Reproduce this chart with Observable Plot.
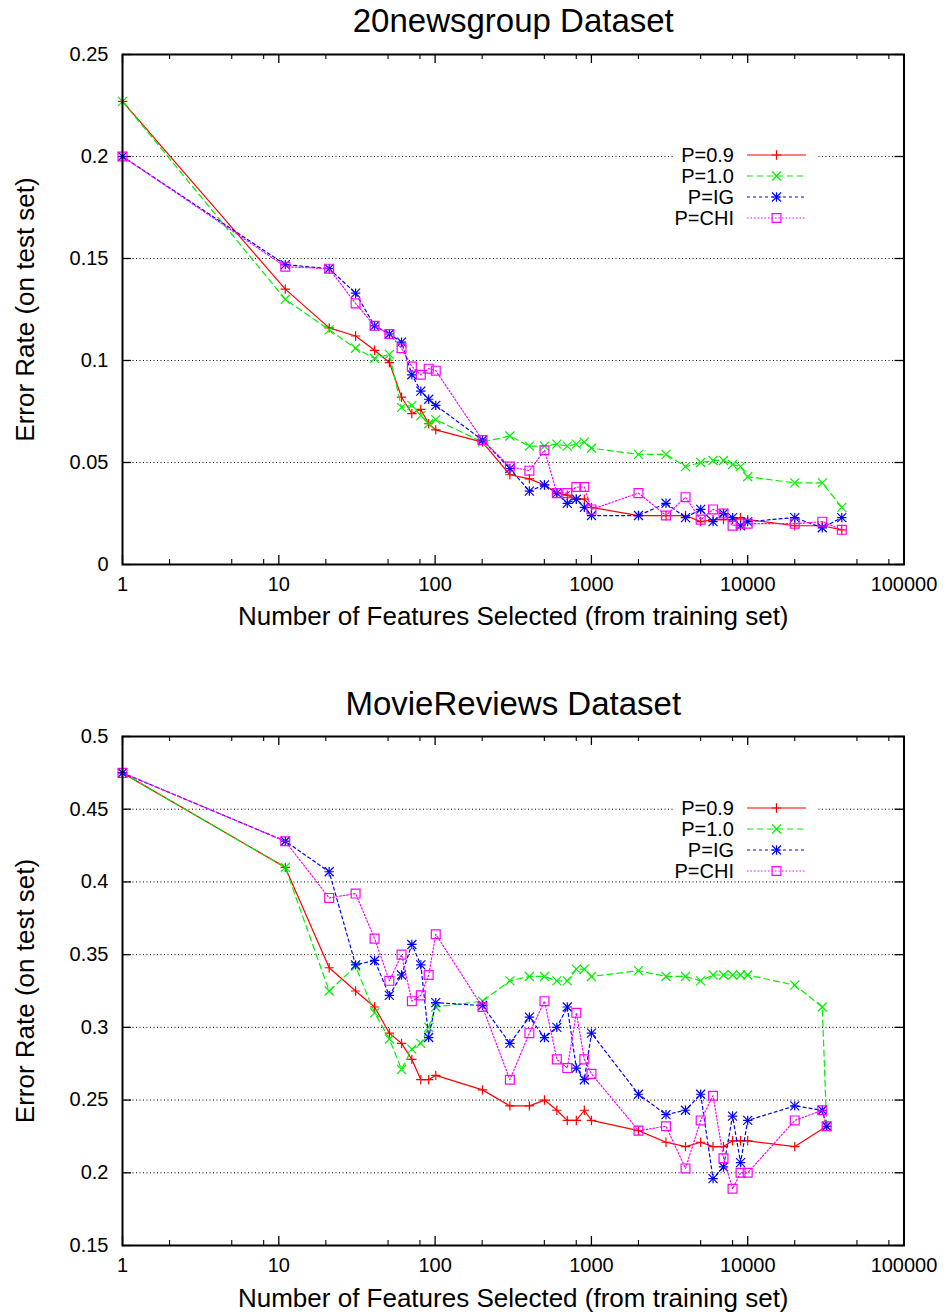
<!DOCTYPE html>
<html><head><meta charset="utf-8">
<script src="https://cdn.jsdelivr.net/npm/d3@7"></script>
<script src="https://cdn.jsdelivr.net/npm/@observablehq/plot@0.6"></script>
<style>
body{margin:0;background:#fff;}
#c svg{display:block;}
</style></head><body><div id="c"></div>
<script>
// ---------- data ----------
const seriesNames = ["P=0.9", "P=1.0", "P=IG", "P=CHI"];

const xTickValues = [1, 10, 100, 1000, 10000, 100000];
const xTickLabels = ["1", "10", "100", "1000", "10000", "100000"];
const xMinorTicks = [2, 5, 8, 20, 50, 80, 200, 500, 800, 2000, 5000, 8000, 20000, 50000, 80000];

const newsTitle = "20newsgroup Dataset";
const newsYTicks = [0, 0.05, 0.1, 0.15, 0.2, 0.25];
const newsYLabels = ["0", "0.05", "0.1", "0.15", "0.2", "0.25"];
const newsFeatures = [1, 11, 21, 31, 41, 51, 61, 71, 81, 91, 101, 201, 301, 401, 501, 601, 701, 801, 901, 1001,
  2001, 3001, 4001, 5001, 6001, 7001, 8001, 9001, 10001, 20001, 30001, 40001];
const newsP09 = [0.227, 0.135, 0.116, 0.112, 0.105, 0.099, 0.082, 0.074, 0.076, 0.069, 0.066, 0.060, 0.044, 0.042, 0.039, 0.035, 0.034, 0.032, 0.032, 0.028,
  0.024, 0.024, 0.024, 0.021, 0.022, 0.022, 0.022, 0.023, 0.022, 0.019, 0.019, 0.017];
const newsP10 = [0.227, 0.130, 0.115, 0.106, 0.101, 0.103, 0.077, 0.078, 0.073, 0.069, 0.071, 0.060, 0.063, 0.058, 0.058, 0.059, 0.058, 0.059, 0.060, 0.057,
  0.054, 0.054, 0.048, 0.050, 0.051, 0.051, 0.049, 0.048, 0.043, 0.040, 0.040, 0.028];
const newsIG = [0.200, 0.147, 0.145, 0.133, 0.117, 0.113, 0.109, 0.093, 0.085, 0.081, 0.078, 0.061, 0.047, 0.036, 0.039, 0.035, 0.030, 0.032, 0.028, 0.024,
  0.024, 0.030, 0.023, 0.027, 0.021, 0.025, 0.023, 0.019, 0.021, 0.023, 0.018, 0.023];
const newsCHI = [0.200, 0.146, 0.145, 0.128, 0.117, 0.113, 0.106, 0.097, 0.093, 0.096, 0.095, 0.061, 0.048, 0.046, 0.056, 0.035, 0.035, 0.038, 0.038, 0.027,
  0.035, 0.024, 0.033, 0.022, 0.027, 0.025, 0.019, 0.020, 0.020, 0.020, 0.021, 0.017];

const movieTitle = "MovieReviews Dataset";
const movieYTicks = [0.15, 0.2, 0.25, 0.3, 0.35, 0.4, 0.45, 0.5];
const movieYLabels = ["0.15", "0.2", "0.25", "0.3", "0.35", "0.4", "0.45", "0.5"];
const movieFeatures = [1, 11, 21, 31, 41, 51, 61, 71, 81, 91, 101, 201, 301, 401, 501, 601, 701, 801, 901, 1001,
  2001, 3001, 4001, 5001, 6001, 7001, 8001, 9001, 10001, 20001, 30001, 32000];
const movieP09 = [0.475, 0.410, 0.341, 0.325, 0.314, 0.296, 0.289, 0.278, 0.264, 0.264, 0.267, 0.257, 0.246, 0.246, 0.250, 0.243, 0.236, 0.236, 0.243, 0.236,
  0.229, 0.221, 0.218, 0.221, 0.218, 0.218, 0.222, 0.222, 0.222, 0.218, null, 0.232];
const movieP10 = [0.475, 0.410, 0.325, 0.342, 0.310, 0.292, 0.271, 0.285, 0.289, 0.300, 0.314, 0.318, 0.332, 0.335, 0.335, 0.332, 0.332, 0.340, 0.340, 0.335,
  0.339, 0.335, 0.335, 0.332, 0.336, 0.336, 0.336, 0.336, 0.336, 0.329, 0.314, 0.232];
const movieIG = [0.475, 0.428, 0.407, 0.343, 0.346, 0.322, 0.336, 0.357, 0.343, 0.293, 0.317, 0.315, 0.289, 0.307, 0.293, 0.300, 0.314, 0.272, 0.264, 0.296,
  0.254, 0.240, 0.243, 0.254, 0.196, 0.204, 0.239, 0.207, 0.236, 0.246, 0.243, 0.232];
const movieCHI = [0.475, 0.428, 0.389, 0.392, 0.361, 0.332, 0.350, 0.318, 0.322, 0.336, 0.364, 0.314, 0.264, 0.296, 0.318, 0.278, 0.272, 0.310, 0.278, 0.268,
  0.229, 0.232, 0.203, 0.236, 0.253, 0.210, 0.189, 0.200, 0.200, 0.236, 0.243, 0.232];

// ---------- styles ----------
const FONT = "'Liberation Sans', Arial, Helvetica, sans-serif";
const styles = [
  {color: "#ff0000", dash: null, symbols: [["plus", 3.13]]},
  {color: "#00f000", dash: "6,4", symbols: [["times", 4.17]]},
  {color: "#0000ff", dash: "3,3", symbols: [["plus", 3.13], ["times", 4.17]]},
  {color: "#ff00ff", dash: "1.5,2", symbols: [["square", 5.0]]}
];
const d3Sym = {plus: d3.symbolPlus, times: d3.symbolTimes, square: d3.symbolSquare};

function chart(cfg) {
  const W = 947, mL = 122, mR = 43.5;
  const plotW = W - mL - mR;
  const plotH = cfg.height - cfg.marginTop - cfg.marginBottom;
  const marks = [];
  // grid
  marks.push(Plot.ruleY(cfg.yTicks, {y: d => d, stroke: "#000", strokeWidth: 1, strokeDasharray: "1,2.5"}));
  // inward ticks
  marks.push(Plot.ruleX(xTickValues, {x: d => d, insetTop: plotH - 9, stroke: "#000", strokeWidth: 1.3}));
  marks.push(Plot.ruleX(xTickValues, {x: d => d, insetBottom: plotH - 9, stroke: "#000", strokeWidth: 1.3}));
  marks.push(Plot.ruleX(xMinorTicks, {x: d => d, insetTop: plotH - 5, stroke: "#000", strokeWidth: 1.1}));
  marks.push(Plot.ruleX(xMinorTicks, {x: d => d, insetBottom: plotH - 5, stroke: "#000", strokeWidth: 1.1}));
  marks.push(Plot.ruleY(cfg.yTicks, {y: d => d, insetRight: plotW - 9, stroke: "#000", strokeWidth: 1.3}));
  marks.push(Plot.ruleY(cfg.yTicks, {y: d => d, insetLeft: plotW - 9, stroke: "#000", strokeWidth: 1.3}));
  // series
  cfg.series.forEach((vals, s) => {
    const rows = [];
    vals.forEach((v, j) => { if (v != null) rows.push({n: cfg.features[j], e: v}); });
    const st = styles[s];
    marks.push(Plot.line(rows, {x: "n", y: "e", stroke: st.color, strokeWidth: 1.2,
      strokeDasharray: st.dash || undefined}));
    st.symbols.forEach(([sym, r]) => {
      marks.push(Plot.dot(rows, {x: "n", y: "e", symbol: sym, r, stroke: st.color, fill: "none", strokeWidth: 1.2}));
    });
  });
  marks.push(Plot.frame({stroke: "#000", strokeWidth: 2}));
  // tick labels
  marks.push(Plot.text(xTickValues, {x: d => d, text: (d, i) => xTickLabels[i], frameAnchor: "bottom",
    dy: 20, textAnchor: "middle", lineAnchor: "middle", fontSize: 20}));
  marks.push(Plot.text(cfg.yTicks, {y: d => d, text: (d, i) => cfg.yLabels[i], frameAnchor: "left",
    dx: -14, textAnchor: "end", lineAnchor: "middle", fontSize: 20}));
  // titles
  marks.push(Plot.text([cfg.title], {text: d => d, frameAnchor: "top", dy: cfg.titleDy,
    textAnchor: "middle", lineAnchor: "middle", fontSize: 33}));
  marks.push(Plot.text(["Number of Features Selected (from training set)"], {text: d => d, frameAnchor: "bottom",
    dy: cfg.xLabelDy, textAnchor: "middle", lineAnchor: "middle", fontSize: 26}));
  marks.push(Plot.text(["Error Rate (on test set)"], {text: d => d, frameAnchor: "left",
    dx: -97, rotate: -90, textAnchor: "middle", lineAnchor: "middle", fontSize: 26}));

  const svg = Plot.plot({
    width: W, height: cfg.height,
    marginLeft: mL, marginRight: mR, marginTop: cfg.marginTop, marginBottom: cfg.marginBottom,
    x: {type: "log", domain: [1, 100000], axis: null},
    y: {type: "linear", domain: cfg.yDomain, axis: null},
    style: {fontFamily: FONT, fontSize: "20px", color: "#000", background: "#fff", overflow: "visible"},
    marks
  });

  // key (legend), drawn in the plot's own coordinate frame
  const g = d3.select(svg).append("g").attr("class", "key");
  const rowH = 21, y0 = cfg.keyTop;
  g.append("rect").attr("x", 673).attr("y", y0 - 11).attr("width", 145).attr("height", rowH * 3 + 21)
    .attr("fill", "#fff");
  seriesNames.forEach((name, i) => {
    const y = y0 + i * rowH, st = styles[i];
    g.append("text").attr("x", 734).attr("y", y).attr("dy", "0.35em").attr("text-anchor", "end")
      .attr("font-family", FONT).attr("font-size", 20).attr("fill", "#000").text(name);
    g.append("line").attr("x1", 747).attr("x2", 806).attr("y1", y).attr("y2", y)
      .attr("stroke", st.color).attr("stroke-width", 1.2)
      .attr("stroke-dasharray", st.dash || null);
    st.symbols.forEach(([sym, r]) => {
      g.append("path").attr("transform", `translate(776.5,${y})`)
        .attr("d", d3.symbol(d3Sym[sym], Math.PI * r * r)())
        .attr("fill", "none").attr("stroke", st.color).attr("stroke-width", 1.2);
    });
  });
  return svg;
}

const container = document.getElementById("c");
container.appendChild(chart({
  title: newsTitle, features: newsFeatures, series: [newsP09, newsP10, newsIG, newsCHI],
  yDomain: [0, 0.25], yTicks: newsYTicks, yLabels: newsYLabels,
  height: 658, marginTop: 54, marginBottom: 94, titleDy: -33, xLabelDy: 52, keyTop: 155
}));
container.appendChild(chart({
  title: movieTitle, features: movieFeatures, series: [movieP09, movieP10, movieIG, movieCHI],
  yDomain: [0.15, 0.5], yTicks: movieYTicks, yLabels: movieYLabels,
  height: 657, marginTop: 78, marginBottom: 70, titleDy: -32, xLabelDy: 53, keyTop: 150
}));
</script></body></html>
